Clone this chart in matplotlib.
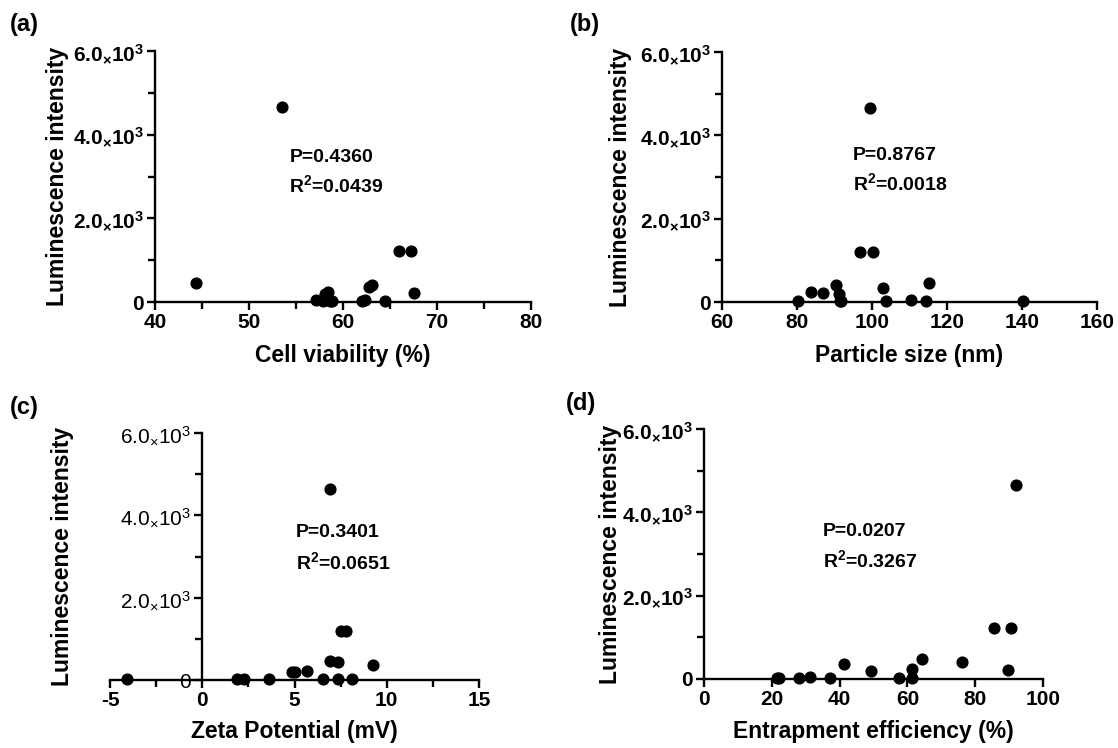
import matplotlib
matplotlib.use("Agg")
import matplotlib.pyplot as plt
from matplotlib.ticker import MultipleLocator, FuncFormatter, NullLocator

plt.rcParams["font.family"] = ["Liberation Sans", "DejaVu Sans"]
plt.rcParams["font.weight"] = "bold"
plt.rcParams["mathtext.default"] = "regular"
plt.rcParams["axes.unicode_minus"] = False

# (a) cell viability
viability = [44.4, 53.5, 57.1, 57.9, 58.1, 58.4, 58.6, 58.8, 62.0, 62.3, 62.8, 63.1, 64.5, 66.0, 67.2, 67.6]
lum_a = [460, 4650, 40, 25, 190, 240, 20, 25, 25, 55, 360, 415, 25, 1220, 1220, 220]

# (b) particle size
size_nm = [80.3, 83.8, 86.9, 90.3, 91.3, 91.5, 96.8, 99.5, 100.2, 102.9, 103.7, 110.4, 114.3, 115.3, 140.2, 91.6]
lum_b = [15, 232, 216, 400, 200, 15, 1200, 4650, 1200, 336, 15, 40, 15, 456, 20, 30]

# (c) zeta potential
zeta = [-4.1, 1.9, 2.25, 3.6, 4.86, 5.04, 5.67, 6.55, 6.94, 6.94, 7.34, 7.34, 7.52, 7.79, 8.1, 9.28]
lum_c = [20, 20, 20, 20, 205, 190, 230, 20, 4650, 450, 430, 25, 1200, 1200, 20, 370]

# (d) entrapment efficiency
entrap = [21.5, 22.1, 28.1, 31.2, 37.1, 41.4, 49.2, 57.5, 61.3, 61.5, 64.3, 76.2, 85.6, 89.8, 90.6, 91.9]
lum_d = [20, 30, 20, 50, 20, 350, 200, 20, 20, 250, 470, 410, 1230, 220, 1220, 4650]

stats = [("P=0.4360", "0.0439"), ("P=0.8767", "0.0018"),
         ("P=0.3401", "0.0651"), ("P=0.0207", "0.3267")]

W, H = 1118, 748
fig = plt.figure(figsize=(W / 100, H / 100), dpi=100)


def px_axes(left, right, top, bottom):
    return fig.add_axes([left / W, 1 - bottom / H, (right - left) / W, (bottom - top) / H])


def yfmt(v, pos):
    if abs(v) < 1e-9:
        return "0"
    return f"{v / 1000:.1f}" + r"$_{\times}$10$^{3}$"


panels = [
    dict(x=viability, y=lum_a, box=(155, 531, 51, 302), xlim=(40, 80), major=10, minor=5,
         xlabel="Cell viability (%)", tag="(a)", tagpos=(10, 25), ylx=69, xly=344,
         txt=(54.3, 3466, 2797)),
    dict(x=size_nm, y=lum_b, box=(722, 1097, 52, 302), xlim=(60, 160), major=20, minor=None,
         xlabel="Particle size (nm)", tag="(b)", tagpos=(570, 25), ylx=632, xly=344,
         txt=(94.9, 3528, 2856)),
    dict(x=zeta, y=lum_c, box=(110, 479, 433, 680), xlim=(-5, 15), major=5, minor=2.5,
         xlabel="Zeta Potential (mV)", tag="(c)", tagpos=(10, 408), ylx=74, xly=720,
         txt=(5.08, 3571, 2866)),
    dict(x=entrap, y=lum_d, box=(704, 1043, 429, 679), xlim=(0, 100), major=20, minor=None,
         xlabel="Entrapment efficiency (%)", tag="(d)", tagpos=(566, 403), ylx=622, xly=720,
         txt=(35.1, 3528, 2856)),
]

for i, p in enumerate(panels):
    ax = px_axes(*p["box"])
    ax.scatter(p["x"], p["y"], s=60, color="black", zorder=3, clip_on=False)
    ax.set_xlim(*p["xlim"])
    ax.set_ylim(0, 6000)
    for s in ("top", "right"):
        ax.spines[s].set_visible(False)
    for s in ("left", "bottom"):
        ax.spines[s].set_linewidth(1.7)
    if i == 2:
        ax.spines["left"].set_position(("data", 0))
    ax.xaxis.set_major_locator(MultipleLocator(p["major"]))
    if p["minor"]:
        ax.xaxis.set_minor_locator(MultipleLocator(p["minor"]))
    else:
        ax.xaxis.set_minor_locator(NullLocator())
    ax.yaxis.set_major_locator(MultipleLocator(2000))
    ax.yaxis.set_minor_locator(MultipleLocator(1000))
    ax.yaxis.set_major_formatter(FuncFormatter(yfmt))
    ax.tick_params(which="major", length=6, width=1.7, labelsize=15, pad=2)
    ax.tick_params(which="minor", length=5, width=1.7)
    for lab in ax.get_xticklabels() + ax.get_yticklabels():
        lab.set_fontweight("bold")
    if i == 2:
        for lab in ax.get_yticklabels():
            lab.set_fontweight("normal")
    ax.set_xlabel(p["xlabel"], fontsize=16.5, fontweight="bold")
    ax.xaxis.set_label_coords(((p["box"][0] + p["box"][1]) / 2) / W, 1 - p["xly"] / H,
                              transform=fig.transFigure)
    ax.set_ylabel("Luminescence intensity", fontsize=16.5, fontweight="bold")
    ax.yaxis.set_label_coords(p["ylx"] / W, 1 - ((p["box"][2] + p["box"][3]) / 2) / H,
                              transform=fig.transFigure)
    tx, ty_p, ty_r = p["txt"]
    ax.text(tx, ty_p, stats[i][0], fontsize=14, fontweight="bold", va="center")
    ax.text(tx, ty_r, "R$^{2}$=" + stats[i][1], fontsize=14, fontweight="bold", va="center")
    fig.text(p["tagpos"][0] / W, 1 - p["tagpos"][1] / H, p["tag"], fontsize=17,
             fontweight="bold", va="center")

fig.savefig("out.png", dpi=100)
